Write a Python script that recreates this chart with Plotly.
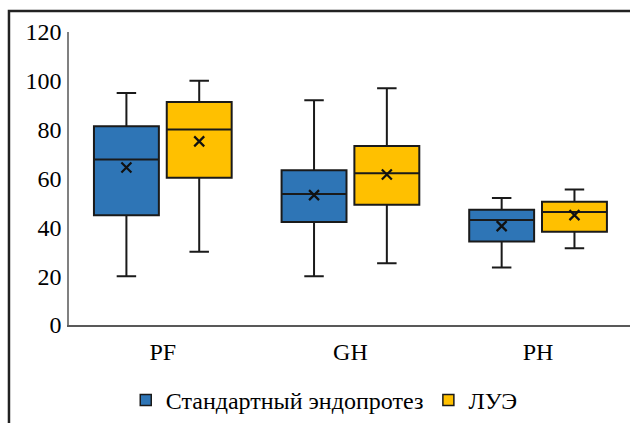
import plotly.graph_objects as go

categories = ["PF", "GH", "PH"]
series_names = ["Стандартный эндопротез", "ЛУЭ"]
series_colors = ["#2E75B6", "#FFC000"]

# values
std_upper = [95, 92, 52]
std_q3 = [81.4, 63.4, 47.2]
std_median = [67.8, 53.7, 43]
std_mean = [64.5, 53.2, 40.5]
std_q1 = [45, 42.2, 34.2]
std_lower = [20, 20, 23.5]

lue_upper = [100, 97, 55.5]
lue_q3 = [91.3, 73.3, 50.5]
lue_median = [80.1, 62.2, 46.3]
lue_mean = [75.2, 61.6, 45]
lue_q1 = [60.3, 49.3, 38.2]
lue_lower = [30, 25.3, 31.4]

yticks = [0, 20, 40, 60, 80, 100, 120]

series = [
    (std_lower, std_q1, std_median, std_q3, std_upper, std_mean),
    (lue_lower, lue_q1, lue_median, lue_q3, lue_upper, lue_mean),
]

FONT = "Liberation Serif"
FS = 24
offset = 0.194
bw = 0.346

fig = go.Figure()
idx = list(range(len(categories)))
for k, (lo, q1, med, q3, up, mn) in enumerate(series):
    xs = [i + (-offset if k == 0 else offset) for i in idx]
    fig.add_trace(go.Box(
        x=xs, lowerfence=lo, q1=q1, median=med, q3=q3, upperfence=up,
        name=series_names[k], fillcolor=series_colors[k],
        line=dict(color="#1a1a1a", width=2), width=bw, whiskerwidth=0.3,
        boxpoints=False, showlegend=False, hoverinfo="skip",
    ))
    fig.add_trace(go.Scatter(
        x=xs, y=mn, mode="markers", showlegend=False, hoverinfo="skip",
        marker=dict(symbol="x-thin-open", size=10, color="#111",
                    line=dict(color="#111", width=2.2)),
    ))
    # legend entry
    fig.add_trace(go.Scatter(
        x=[None], y=[None], mode="markers", name=series_names[k],
        marker=dict(symbol="square", size=11, color=series_colors[k],
                    line=dict(color="#1a1a1a", width=1.5)),
    ))

fig.update_layout(
    width=630, height=423,
    margin=dict(l=69, r=0, t=32, b=97),
    paper_bgcolor="white", plot_bgcolor="white",
    font=dict(family=FONT, size=FS, color="#000"),
    boxmode="overlay",
    showlegend=True,
    legend=dict(orientation="h", x=0.455, xanchor="center", y=-0.2585, yanchor="middle",
                font=dict(family=FONT, size=FS, color="#000"), itemwidth=30,
                traceorder="normal", bgcolor="rgba(0,0,0,0)"),
    xaxis=dict(range=[-0.5, 2.49], tickvals=idx, ticktext=categories,
               showgrid=False, zeroline=False, showline=True, linecolor="#595959",
               linewidth=2, ticks="", ticklabelstandoff=4,
               tickfont=dict(family=FONT, size=FS, color="#000")),
    yaxis=dict(range=[0, 120], tickvals=yticks, showgrid=False, zeroline=False,
               showline=True, linecolor="#808080", linewidth=1.5, ticks="",
               ticklabelstandoff=1,
               tickfont=dict(family=FONT, size=FS, color="#000")),
    shapes=[dict(type="rect", xref="paper", yref="paper",
                 x0=-0.107, x1=1.2, y0=-0.6, y1=1.0714,
                 line=dict(color="#222", width=2.5), layer="above")],
)

fig.write_html("out.html")
